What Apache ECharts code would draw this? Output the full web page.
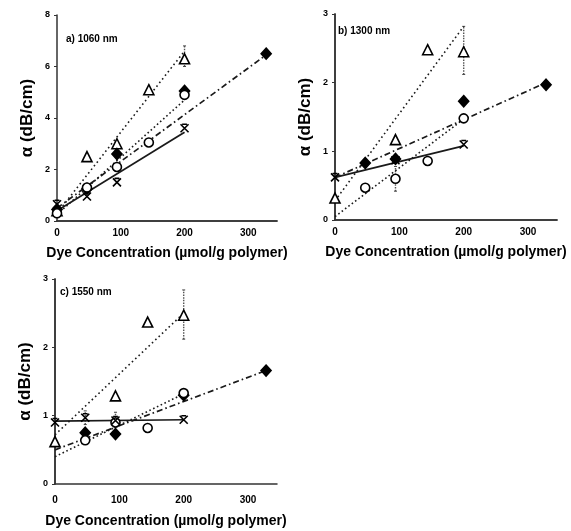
<!DOCTYPE html>
<html>
<head>
<meta charset="utf-8">
<script src="https://cdn.jsdelivr.net/npm/echarts@6/dist/echarts.min.js"></script>
<style>
  html, body { margin: 0; padding: 0; background: #fff; }
  #chart { width: 571px; height: 531px; }
</style>
</head>
<body>
<div id="chart"></div>
<script>
// dye concentration of the samples (umol/g polymer)
const conc = [0, 47, 94, 144, 200, 328]
// x range of the fitted lines
const fitShort = [0, 200]
const fitLong = [0, 328]

// a) 1060 nm
const triA = [0.4, 2.5, 3.0, 5.1, 6.3, null]
const dotA = [0.45, 1.25, 2.6, null, 5.05, 6.5]
const cirA = [0.3, 1.3, 2.1, 3.05, 4.9, null]
const crsA = [0.65, 0.95, 1.5, null, 3.6, null]
const fitTriA = [0.3, 6.6]
const fitDotA = [0.5, 6.45]
const fitCirA = [0.25, 4.7]
const fitCrsA = [0.4, 3.45]
const errA = [[200, 6.0, 6.8]]

// b) 1300 nm
const triB = [0.32, null, 1.17, 2.48, 2.45, null]
const dotB = [null, 0.83, 0.89, null, 1.73, 1.97]
const cirB = [null, 0.47, 0.6, 0.86, 1.48, null]
const crsB = [0.62, null, 0.87, null, 1.1, null]
const fitTriB = [0.28, 2.82]
const fitDotB = [0.62, 2.0]
const fitCirB = [0.05, 1.47]
const fitCrsB = [0.62, 1.08]
const errB = [[200, 2.12, 2.82], [94, 0.42, 0.78]]

// c) 1550 nm
const triC = [0.62, null, 1.29, 2.37, 2.47, null]
const dotC = [null, 0.75, 0.73, null, 1.3, 1.66]
const cirC = [null, 0.64, 0.9, 0.82, 1.33, null]
const crsC = [0.9, 0.97, 0.93, null, 0.94, null]
const fitTriC = [0.72, 2.5]
const fitDotC = [0.5, 1.66]
const fitCirC = [0.4, 1.32]
const fitCrsC = [0.92, 0.94]
const errC = [[200, 2.12, 2.84], [47, 0.87, 1.07], [94, 0.77, 1.05]]

const yMax = [8, 3, 3]
const yStep = [2, 1, 1]
const panelLabels = ['a) 1060 nm', 'b) 1300 nm', 'c) 1550 nm']

const ink = '#000'
const font = 'Liberation Sans, Arial, sans-serif'
const crossPath = 'path://M0,0 L10,10 M10,0 L0,10 M2,0 L8,0'

function points(arr) {
  const res = []
  for (let i = 0; i < conc.length; i++) {
    if (arr[i] !== null) res.push([conc[i], arr[i]])
  }
  return res
}

function fitLine(xs, ys) {
  return [[xs[0], ys[0]], [xs[1], ys[1]]]
}

function panelSeries(g, tri, dot, cir, crs, fTri, fDot, fCir, fCrs, err) {
  const lines = [
    { data: fitLine(fitShort, fTri), type: [1.6, 3], width: 1.6 },
    { data: fitLine(fitLong, fDot), type: [6, 3, 1.6, 3], width: 1.7 },
    { data: fitLine(fitShort, fCir), type: [1.6, 2.6], width: 1.6 },
    { data: fitLine(fitShort, fCrs), type: 'solid', width: 1.7 }
  ]
  const out = lines.map(l => ({
    type: 'line',
    xAxisIndex: g,
    yAxisIndex: g,
    data: l.data,
    showSymbol: false,
    silent: true,
    lineStyle: { color: '#1a1a1a', width: l.width, type: l.type }
  }))
  out.push({
    type: 'custom',
    xAxisIndex: g,
    yAxisIndex: g,
    data: err,
    z: 3,
    renderItem: function(params, api) {
      const lo = api.coord([api.value(0), api.value(1)])
      const hi = api.coord([api.value(0), api.value(2)])
      return {
        type: 'group',
        children: [
          { type: 'line', shape: { x1: lo[0], y1: lo[1], x2: hi[0], y2: hi[1] }, style: { stroke: '#555', lineWidth: 1.4, lineDash: [1.5, 1.2] } },
          { type: 'line', shape: { x1: hi[0] - 1.5, y1: hi[1], x2: hi[0] + 1.5, y2: hi[1] }, style: { stroke: '#444', lineWidth: 1 } },
          { type: 'line', shape: { x1: lo[0] - 1.5, y1: lo[1], x2: lo[0] + 1.5, y2: lo[1] }, style: { stroke: '#444', lineWidth: 1 } }
        ]
      }
    }
  })
  const marks = [
    { data: points(tri), symbol: 'triangle', size: 10, fill: '#fff' },
    { data: points(dot), symbol: 'diamond', size: [10, 11], fill: ink },
    { data: points(cir), symbol: 'circle', size: 9, fill: '#fff' },
    { data: points(crs), symbol: crossPath, size: 8, fill: 'none' }
  ]
  marks.forEach(m => {
    out.push({
      type: 'scatter',
      xAxisIndex: g,
      yAxisIndex: g,
      data: m.data,
      symbol: m.symbol,
      symbolSize: m.size,
      z: 4,
      itemStyle: { color: m.fill, borderColor: ink, borderWidth: 1.6, opacity: 1 }
    })
  })
  return out
}

const grids = [
  { left: 57, top: 15, width: 220, height: 206 },
  { left: 335, top: 14, width: 222, height: 206 },
  { left: 55, top: 279, width: 222, height: 205 }
]

const xAxes = []
const yAxes = []
for (let g = 0; g < 3; g++) {
  xAxes.push({
    gridIndex: g,
    type: 'value',
    min: 0,
    max: 345,
    interval: 100,
    axisLine: { show: g !== 2, lineStyle: { color: '#333', width: 1.5 } },
    axisTick: { show: false },
    splitLine: { show: false },
    axisLabel: {
      formatter: v => (v % 100 === 0 ? String(v) : ''),
      color: ink, fontSize: 10, fontWeight: 'bold', fontFamily: font,
      margin: g === 2 ? 11 : 7
    },
    name: 'Dye Concentration (µmol/g polymer)',
    nameLocation: 'middle',
    nameGap: g === 2 ? 30 : 25,
    nameTextStyle: { color: ink, fontSize: 14, fontWeight: 'bold', fontFamily: font }
  })
  // top border line
  xAxes.push({
    gridIndex: g,
    type: 'value',
    position: 'top',
    min: 0,
    max: 345,
    axisLine: { show: true, lineStyle: { color: '#333', width: 1.5 } },
    axisTick: { show: false },
    axisLabel: { show: false },
    splitLine: { show: false }
  })
  yAxes.push({
    gridIndex: g,
    type: 'value',
    min: 0,
    max: yMax[g],
    interval: yStep[g],
    axisLine: { show: true, lineStyle: { color: '#333', width: 1.5 } },
    axisTick: { show: true, length: 3, lineStyle: { color: '#333' } },
    splitLine: { show: false },
    axisLabel: { color: ink, fontSize: 9, fontWeight: 'bold', fontFamily: font, margin: 7 },
    name: 'α (dB/cm)',
    nameLocation: 'middle',
    nameRotate: 90,
    nameGap: 21,
    nameTextStyle: { color: ink, fontSize: 17, fontWeight: 'bold', fontFamily: font }
  })
  // right border line (not in panel a)
  yAxes.push({
    gridIndex: g,
    type: 'value',
    position: 'right',
    min: 0,
    max: yMax[g],
    axisLine: { show: g !== 0, lineStyle: { color: '#333', width: 1.5 } },
    axisTick: { show: false },
    axisLabel: { show: false },
    splitLine: { show: false }
  })
}

// series refer to the main axes, which sit at even indices
function fixIndex(list, g) {
  list.forEach(s => { s.xAxisIndex = g * 2; s.yAxisIndex = g * 2 })
  return list
}

const series = [].concat(
  fixIndex(panelSeries(0, triA, dotA, cirA, crsA, fitTriA, fitDotA, fitCirA, fitCrsA, errA), 0),
  fixIndex(panelSeries(1, triB, dotB, cirB, crsB, fitTriB, fitDotB, fitCirB, fitCrsB, errB), 1),
  fixIndex(panelSeries(2, triC, dotC, cirC, crsC, fitTriC, fitDotC, fitCirC, fitCrsC, errC), 2)
)

const titlePos = [[66, 34], [338, 26], [60, 287]]
const titles = panelLabels.map((t, i) => ({
  text: t,
  left: titlePos[i][0],
  top: titlePos[i][1],
  padding: 0,
  textStyle: { color: ink, fontSize: 10, fontWeight: 'bold', fontFamily: font }
}))

const chart = echarts.init(document.getElementById('chart'), null, { renderer: 'canvas' })
chart.setOption({
  backgroundColor: '#fff',
  animation: false,
  title: titles,
  grid: grids,
  xAxis: xAxes,
  yAxis: yAxes,
  series: series
})
</script>
</body>
</html>
